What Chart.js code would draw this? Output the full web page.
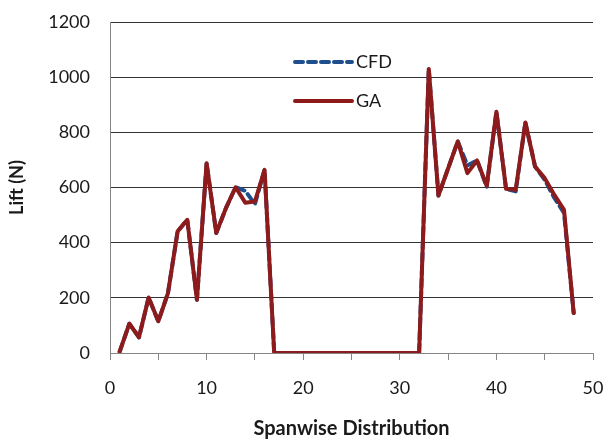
<!DOCTYPE html>
<html>
<head>
<meta charset="utf-8">
<script src="https://cdn.jsdelivr.net/npm/chart.js@4.4.0/dist/chart.umd.min.js"></script>
<style>
  html, body { margin: 0; padding: 0; background: #fff; }
  #wrap { width: 604px; height: 441px; position: relative; }
</style>
</head>
<body>
<div id="wrap"><canvas id="c" width="604" height="441"></canvas></div>
<script>
// Spanwise stations
const stations = [1,2,3,4,5,6,7,8,9,10,11,12,13,14,15,16,17,18,19,20,21,22,23,24,25,26,27,28,29,30,31,32,33,34,35,36,37,38,39,40,41,42,43,44,45,46,47,48];
// Lift (N) – CFD
const cfdLift = [5,106,57,201,115,217,441,483,193,688,435,525,601,588,540,664,0,0,0,0,0,0,0,0,0,0,0,0,0,0,0,0,1030,571,669,767,680,698,602,875,595,586,836,676,628,562,508,145];
// Lift (N) – GA
const gaLift = [5,106,57,201,115,217,441,483,193,688,435,525,601,545,549,664,0,0,0,0,0,0,0,0,0,0,0,0,0,0,0,0,1030,571,669,767,652,698,606,875,595,592,836,676,634,573,519,145];
const seriesLabels = ['CFD', 'GA'];
const xTitle = 'Spanwise Distribution';
const yTitle = 'Lift (N)';

const FONT = 'Lato, "Open Sans", sans-serif';

const pts = (vals) => stations.map((s, i) => ({ x: s, y: vals[i] }));

const insideLegend = {
  id: 'insideLegend',
  afterDraw(chart) {
    const ctx = chart.ctx;
    const x0 = 295, x1 = 352, tx = 356;
    const ys = [62, 101];
    ctx.save();
    chart.data.datasets.forEach((ds, i) => {
      const y = ys[i];
      ctx.beginPath();
      ctx.strokeStyle = ds.borderColor;
      ctx.lineWidth = ds.borderWidth;
      ctx.lineCap = 'round';
      ctx.setLineDash(ds.borderDash || []);
      ctx.moveTo(x0, y);
      ctx.lineTo(x1, y);
      ctx.stroke();
      ctx.setLineDash([]);
      ctx.fillStyle = '#1a1a1a';
      ctx.font = '18px ' + FONT;
      ctx.textAlign = 'left';
      ctx.textBaseline = 'middle';
      ctx.fillText(ds.label, tx, y);
    });
    ctx.restore();
  }
};

new Chart(document.getElementById('c'), {
  type: 'line',
  data: {
    datasets: [
      { label: seriesLabels[0], data: pts(cfdLift), borderColor: '#1F4E8C', borderWidth: 4, borderDash: [8, 5], borderCapStyle: 'round', borderJoinStyle: 'round', pointRadius: 0, tension: 0, order: 1 },
      { label: seriesLabels[1], data: pts(gaLift), borderColor: '#8E1B1B', borderWidth: 4, borderCapStyle: 'round', borderJoinStyle: 'round', pointRadius: 0, tension: 0, order: 0 }
    ]
  },
  options: {
    responsive: false,
    animation: false,
    layout: { padding: { top: 22, right: 11, bottom: 0, left: 0 } },
    plugins: { legend: { display: false }, tooltip: { enabled: false } },
    scales: {
      x: {
        type: 'linear', min: 0, max: 50,
        afterFit(s) { s.height = 88; s.paddingRight = 0; s.paddingLeft = 0; },
        ticks: {
          stepSize: 5, autoSkip: false, maxRotation: 0, padding: 17,
          color: '#1a1a1a', font: { family: FONT, size: 18 },
          callback: (v) => (v % 10 === 0 ? String(v) : '')
        },
        grid: { drawOnChartArea: false, drawTicks: true, tickLength: 7, color: '#868686', lineWidth: 1 },
        border: { display: true, color: '#868686', width: 1 },
        title: { display: true, text: xTitle, color: '#1a1a1a', font: { family: FONT, size: 20, weight: 'bold' }, padding: { top: 0, bottom: 0 } }
      },
      y: {
        min: 0, max: 1200,
        afterFit(s) { s.width = 110; s.paddingTop = 0; s.paddingBottom = 0; },
        ticks: { stepSize: 200, padding: 20, color: '#1a1a1a', font: { family: FONT, size: 18 }, callback: (v) => String(v) },
        grid: { drawTicks: false, color: (c) => (c.tick && c.tick.value === 0 ? 'rgba(0,0,0,0)' : '#333333'), lineWidth: 1 },
        border: { display: true, color: '#868686', width: 1 },
        title: { display: true, text: yTitle, color: '#1a1a1a', font: { family: FONT, size: 18, weight: 'bold' }, padding: { top: 6, bottom: 0 } }
      }
    }
  },
  plugins: [insideLegend]
});
</script>
</body>
</html>
